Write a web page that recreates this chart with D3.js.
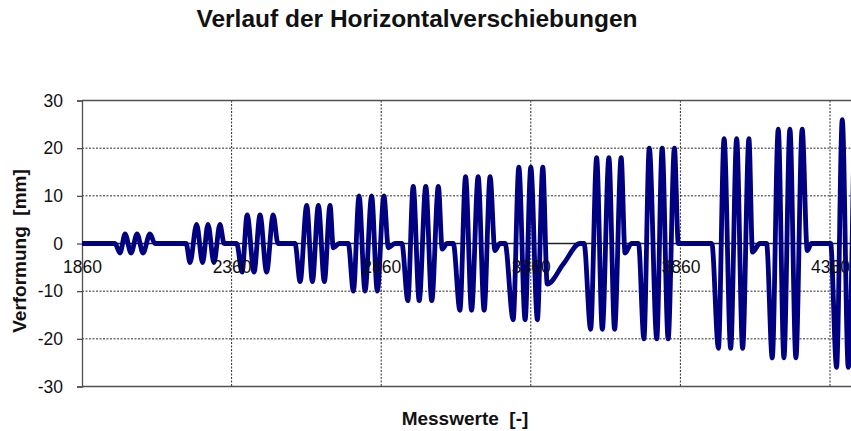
<!DOCTYPE html>
<html>
<head>
<meta charset="utf-8">
<script src="https://cdn.jsdelivr.net/npm/d3@7/dist/d3.min.js"></script>
<style>
  html, body { margin: 0; padding: 0; background: #fff; }
  svg { display: block; }
  text { font-family: "Liberation Sans", Arial, sans-serif; white-space: pre; }
</style>
</head>
<body>
<svg id="chart" width="851" height="431"></svg>
<script>
// ---- data ----
const title = "Verlauf der Horizontalverschiebungen";
const xTitle = "Messwerte  [-]";
const yTitle = "Verformung  [mm]";
const xTicks = [1860, 2360, 2860, 3360, 3860, 4360];
const yTicks = [-30, -20, -10, 0, 10, 20, 30];

const messwerte = [
  1860, 1970, 1987, 2004, 2024, 2044, 2064, 2087, 2104,
  2208, 2221, 2243, 2263, 2281, 2301, 2321, 2335, 2377,
  2395, 2412, 2435, 2455, 2477, 2499, 2515, 2572,
  2589, 2611, 2630, 2650, 2670, 2689, 2700, 2720, 2750,
  2767, 2786, 2806, 2828, 2847, 2869, 2884, 2906, 2929,
  2949, 2967, 2987, 3009, 3029, 3051, 3064, 3080, 3101,
  3123, 3142, 3162, 3184, 3204, 3224, 3240, 3257, 3274,
  3301, 3320, 3341, 3360, 3382, 3400, 3415, 3470, 3524, 3538,
  3560, 3580, 3599, 3621, 3640, 3662, 3675, 3696, 3720,
  3738, 3756, 3781, 3799, 3819, 3840, 3853, 3965,
  3987, 4006, 4028, 4048, 4068, 4089, 4101, 4126, 4148,
  4167, 4187, 4206, 4226, 4246, 4267, 4284, 4298, 4362,
  4382, 4401, 4421, 4441
];
const verformung = [
  0, 0, -2, 2, -2, 2, -2, 2, 0,
  0, -4, 4, -4, 4, -4, 4, 0, 0,
  -6, 6, -6, 6, -6, 6, 0, 0,
  -8, 8, -8, 8, -8, 8, -0.9, 0, 0,
  -10, 10, -10, 10, -10, 10, -0.9, 0, 0,
  -12, 12, -12, 12, -12, 12, -1.2, 0, 0,
  -14, 14, -14, 14, -14, 14, -1.5, 0, 0,
  -16, 16, -16, 16, -16, 16, -8.5, -4.2, 0, 0,
  -18, 18, -18, 18, -18, 18, -2, 0, 0,
  -20, 20, -20, 20, -20, 20, 0, 0,
  -22, 22, -22, 22, -22, 22, -1.8, 0, 0,
  -24, 24, -24, 24, -24, 24, -1.5, 0, 0,
  -26, 26, -26, 26
];

// ---- layout ----
const svg = d3.select("#chart");
const pL = 82, pT = 100.5, pB = 386.5;
const pxPer500 = 149.6;
const xMax = 4500;
const x = d3.scaleLinear().domain([1860, xMax]).range([pL, pL + (xMax - 1860) / 500 * pxPer500]);
const y = d3.scaleLinear().domain([-30, 30]).range([pB, pT]);
const pR = x(xMax);

// gridlines
const gridColor = "#2a2a2a";
svg.append("g").selectAll("line")
  .data(yTicks.filter(v => v !== 0 && Math.abs(v) !== 30))
  .join("line")
  .attr("x1", pL).attr("x2", pR)
  .attr("y1", d => y(d)).attr("y2", d => y(d))
  .attr("stroke", gridColor).attr("stroke-width", 1)
  .attr("stroke-dasharray", "2,1.5");
svg.append("g").selectAll("line")
  .data(xTicks.slice(1))
  .join("line")
  .attr("x1", d => x(d)).attr("x2", d => x(d))
  .attr("y1", pT).attr("y2", pB)
  .attr("stroke", gridColor).attr("stroke-width", 1)
  .attr("stroke-dasharray", "2,1.5");

// frame (top, bottom) and y axis
const frameColor = "#505050";
svg.append("line").attr("x1", pL).attr("x2", pR).attr("y1", pT).attr("y2", pT)
  .attr("stroke", frameColor).attr("stroke-width", 1.3);
svg.append("line").attr("x1", pL).attr("x2", pR).attr("y1", pB).attr("y2", pB)
  .attr("stroke", frameColor).attr("stroke-width", 1.3);

const yAxis = d3.axisLeft(y).tickValues(yTicks).tickSize(5).tickPadding(14)
  .tickFormat(d3.format("d"));
const yg = svg.append("g").attr("transform", `translate(${pL},0)`).call(yAxis);
yg.select(".domain").attr("stroke", frameColor).attr("stroke-width", 1.3);
yg.selectAll(".tick line").attr("stroke", frameColor).attr("stroke-width", 1.3);
yg.selectAll(".tick text")
  .attr("font-family", "Liberation Sans, Arial, sans-serif")
  .attr("font-size", 17.5).attr("fill", "#111")
  .text(d => d < 0 ? "-" + Math.abs(d) : d);

// zero axis line (x axis at y = 0)
svg.append("line").attr("x1", pL).attr("x2", pR).attr("y1", y(0)).attr("y2", y(0))
  .attr("stroke", "#222").attr("stroke-width", 1.3);

// data line
const pts = messwerte.map((m, i) => [m, verformung[i]]);
const line = d3.line().x(d => x(d[0])).y(d => y(d[1])).curve(d3.curveMonotoneX);
svg.append("path").datum(pts)
  .attr("d", line)
  .attr("fill", "none")
  .attr("stroke", "#000080")
  .attr("stroke-width", 4.8)
  .attr("stroke-linejoin", "round");

// x tick labels below zero line (drawn over the data line, as in the original)
const xAxis = d3.axisBottom(x).tickValues(xTicks).tickSize(0).tickPadding(17)
  .tickFormat(d3.format("d"));
const xg = svg.append("g").attr("transform", `translate(0,${y(0)})`).call(xAxis);
xg.select(".domain").remove();
xg.selectAll(".tick text")
  .attr("font-family", "Liberation Sans, Arial, sans-serif")
  .attr("font-size", 17.5).attr("fill", "#111");

// titles
svg.append("text").attr("x", 417).attr("y", 27).attr("text-anchor", "middle")
  .attr("font-size", 24.5).attr("font-weight", "bold").attr("fill", "#111")
  .text(title);
svg.append("text").attr("x", 465).attr("y", 425).attr("text-anchor", "middle")
  .attr("font-size", 19).attr("font-weight", "bold").attr("fill", "#111")
  .text(xTitle);
svg.append("text").attr("transform", "translate(25.5,251) rotate(-90)").attr("text-anchor", "middle")
  .attr("font-size", 19).attr("font-weight", "bold").attr("fill", "#111")
  .text(yTitle);
</script>
</body>
</html>
